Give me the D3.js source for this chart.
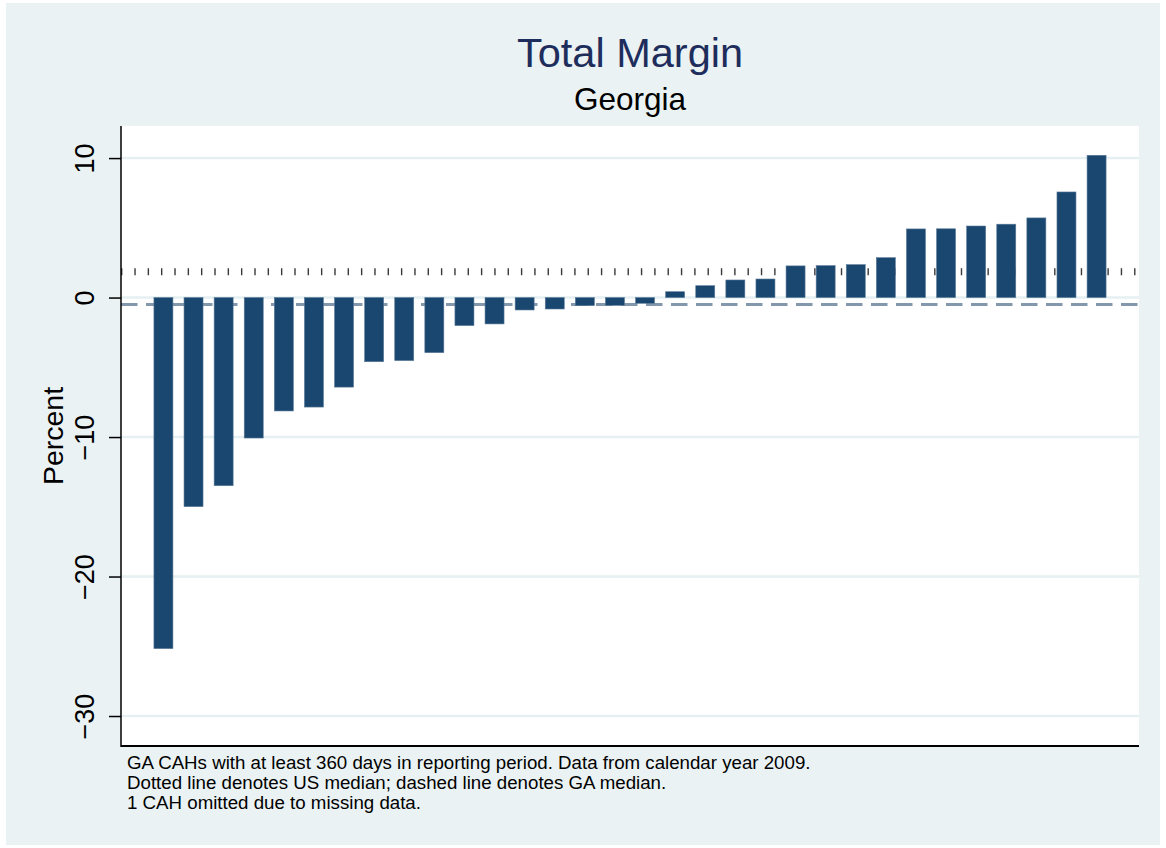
<!DOCTYPE html>
<html>
<head>
<meta charset="utf-8">
<script src="https://cdn.jsdelivr.net/npm/d3@7"></script>
<style>
  html, body { margin: 0; padding: 0; background: #ffffff; }
  svg { display: block; }
  text { font-family: "Liberation Sans", Arial, Helvetica, sans-serif; }
</style>
</head>
<body>
<svg id="chart" width="1166" height="848"></svg>
<script>
// ---- data ----
const categories = d3.range(1, 33).map(i => "CAH " + i);
const margins = [-25.17, -14.99, -13.49, -10.07, -8.13, -7.85, -6.42, -4.60,
                 -4.52, -3.95, -2.01, -1.89, -0.89, -0.82, -0.58, -0.56,
                 -0.41, 0.42, 0.85, 1.26, 1.33, 2.27, 2.29, 2.36,
                 2.86, 4.92, 4.93, 5.13, 5.26, 5.71, 7.57, 10.20];
const yTicks = [-30, -20, -10, 0, 10];
const usMedian = 1.85;
const gaMedian = -0.49;
const titleText = "Total Margin";
const subtitleText = "Georgia";
const yTitle = "Percent";
const notes = [
  "GA CAHs with at least 360 days in reporting period. Data from calendar year 2009.",
  "Dotted line denotes US median; dashed line denotes GA median.",
  "1 CAH omitted due to missing data."
];

// ---- layout ----
const plot = { left: 121, right: 1139, top: 126, bottom: 746 };
const svg = d3.select("#chart");

// outer background
svg.append("rect").attr("x", 6).attr("y", 3).attr("width", 1154).attr("height", 842)
  .attr("fill", "#eaf2f3");
// plot region
svg.append("rect").attr("x", plot.left).attr("y", plot.top)
  .attr("width", plot.right - plot.left).attr("height", plot.bottom - plot.top)
  .attr("fill", "#ffffff");

const x = d3.scaleBand().domain(categories).range([plot.left, plot.right])
  .paddingInner(0.369).paddingOuter(1.094);
const y = d3.scaleLinear().domain([-32.15, 12.30]).range([plot.bottom, plot.top]);

// gridlines
svg.append("g").selectAll("line").data(yTicks).join("line")
  .attr("x1", plot.left).attr("x2", plot.right)
  .attr("y1", d => y(d)).attr("y2", d => y(d))
  .attr("stroke", "#e6eff1").attr("stroke-width", 2.5);

// US median (dotted)
svg.append("line")
  .attr("x1", plot.left).attr("x2", plot.right)
  .attr("y1", y(usMedian)).attr("y2", y(usMedian))
  .attr("stroke", "#3a3a3a").attr("stroke-width", 7)
  .attr("stroke-dasharray", "1.4 11.93");

// GA median (dashed)
svg.append("line")
  .attr("x1", plot.left).attr("x2", plot.right)
  .attr("y1", y(gaMedian)).attr("y2", y(gaMedian))
  .attr("stroke", "#8398ad").attr("stroke-width", 3)
  .attr("stroke-dasharray", "16.5 8.5");

// bars
svg.append("g").selectAll("rect").data(margins).join("rect")
  .attr("x", (d, i) => x(categories[i]))
  .attr("width", x.bandwidth())
  .attr("y", d => y(Math.max(0, d)))
  .attr("height", d => Math.abs(y(d) - y(0)))
  .attr("fill", "#1a476f")
  .attr("stroke", "#5a7a99").attr("stroke-width", 0.6);

// y axis
const yAxis = d3.axisLeft(y).tickValues(yTicks).tickSize(12).tickPadding(14)
  .tickFormat(d => d < 0 ? "\u2212" + Math.abs(d) : String(d));
const gy = svg.append("g").attr("transform", `translate(${plot.left},0)`).call(yAxis);
gy.select(".domain").remove();
gy.selectAll(".tick line").attr("stroke", "#000").attr("stroke-width", 1.5);
gy.selectAll(".tick text")
  .attr("font-size", 27).attr("fill", "#000")
  .attr("x", null).attr("dy", null)
  .attr("text-anchor", "middle")
  .attr("transform", "translate(-27,0) rotate(-90)");
svg.append("line").attr("x1", plot.left).attr("x2", plot.left)
  .attr("y1", plot.top).attr("y2", plot.bottom + 1)
  .attr("stroke", "#000").attr("stroke-width", 1.5);
// x axis line
svg.append("line").attr("x1", plot.left).attr("x2", plot.right)
  .attr("y1", plot.bottom).attr("y2", plot.bottom)
  .attr("stroke", "#000").attr("stroke-width", 2);

// y title
svg.append("text").attr("transform", `translate(63,${(plot.top + plot.bottom) / 2}) rotate(-90)`)
  .attr("text-anchor", "middle").attr("font-size", 28.5).attr("fill", "#000").text(yTitle);

// titles
const cx = (plot.left + plot.right) / 2;
svg.append("text").attr("x", cx).attr("y", 67).attr("text-anchor", "middle")
  .attr("font-size", 41.5).attr("fill", "#1e2d5c").text(titleText);
svg.append("text").attr("x", cx).attr("y", 110).attr("text-anchor", "middle")
  .attr("font-size", 31.5).attr("fill", "#000").text(subtitleText);

// notes
svg.append("g").selectAll("text").data(notes).join("text")
  .attr("x", 127).attr("y", (d, i) => 769 + i * 20)
  .attr("font-size", 18.7).attr("fill", "#000").text(d => d);
</script>
</body>
</html>
